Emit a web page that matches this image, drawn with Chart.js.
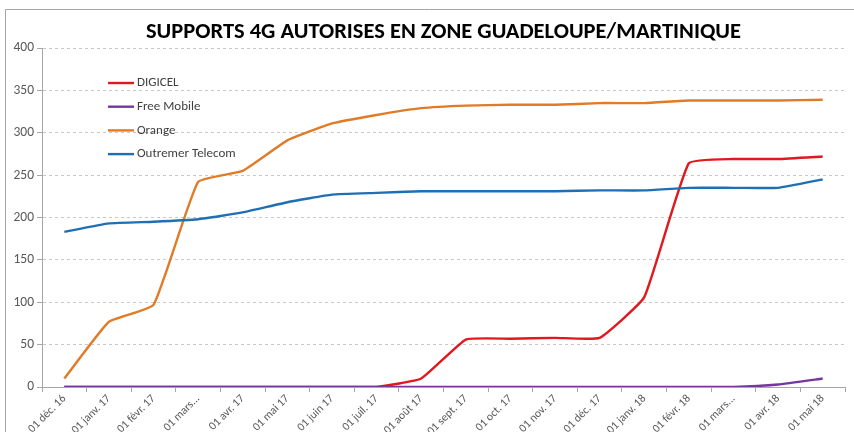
<!DOCTYPE html>
<html>
<head>
<meta charset="utf-8">
<script src="https://cdn.jsdelivr.net/npm/chart.js@4"></script>
<style>
  html, body { margin: 0; padding: 0; background: #fff; }
  #wrap { width: 854px; height: 432px; position: relative; }
</style>
</head>
<body>
<div id="wrap"><canvas id="chart" width="854" height="432"></canvas></div>
<script>
const months = [
  "01 déc. 16", "01 janv. 17", "01 févr. 17", "01 mars...", "01 avr. 17", "01 mai 17",
  "01 juin 17", "01 juil. 17", "01 août 17", "01 sept. 17", "01 oct. 17", "01 nov. 17",
  "01 déc. 17", "01 janv. 18", "01 févr. 18", "01 mars...", "01 avr. 18", "01 mai 18",
];
const digicel = [0, 0, 0, 0, 0, 0, 0, 0, 10, 56, 57, 58, 58, 106, 264, 269, 269, 272];
const freeMobile = [0, 0, 0, 0, 0, 0, 0, 0, 0, 0, 0, 0, 0, 0, 0, 0, 3, 10];
const orange = [10, 77, 97, 242, 255, 291, 311, 321, 329, 332, 333, 333, 335, 335, 338, 338, 338, 339];
const outremer = [183, 193, 195, 198, 206, 218, 227, 229, 231, 231, 231, 231, 232, 232, 235, 235, 235, 245];
const yTicks = [0, 50, 100, 150, 200, 250, 300, 350, 400];

const font = "Carlito, Calibri, Lato, sans-serif";

function line(label, data, color, order) {
  return {
    label,
    data,
    borderColor: color,
    backgroundColor: color,
    borderWidth: 2.4,
    pointRadius: 0,
    tension: 0.12,
    fill: false,
    order,
  };
}

// excel-style frame + legend drawn inside the plot
const framePlugin = {
  id: "frame",
  beforeDraw(chart) {
    const ctx = chart.ctx;
    ctx.save();
    ctx.strokeStyle = "#a6a6a6";
    ctx.lineWidth = 1;
    ctx.beginPath();
    ctx.moveTo(5.5, 432);
    ctx.lineTo(5.5, 9.5);
    ctx.lineTo(854, 9.5);
    ctx.stroke();
    ctx.restore();
  },
  afterDraw(chart) {
    const ctx = chart.ctx;
    ctx.save();
    ctx.font = "13px " + font;
    ctx.textBaseline = "middle";
    chart.data.datasets.forEach((ds, i) => {
      const y = 83 + i * 23.7;
      ctx.strokeStyle = ds.borderColor;
      ctx.lineWidth = 2.4;
      ctx.beginPath();
      ctx.moveTo(108, y);
      ctx.lineTo(134, y);
      ctx.stroke();
      ctx.fillStyle = "#404040";
      ctx.fillText(ds.label, 137, y);
    });
    ctx.restore();
  },
};

new Chart(document.getElementById("chart"), {
  type: "line",
  data: {
    labels: months,
    datasets: [
      line("DIGICEL", digicel, "#e0191f", 4),
      line("Free Mobile", freeMobile, "#7636a0", 3),
      line("Orange", orange, "#e07b27", 2),
      line("Outremer Telecom", outremer, "#1f6fb5", 1),
    ],
  },
  options: {
    responsive: false,
    animation: false,
    layout: { padding: { left: 0, right: 9, top: 0, bottom: 0 } },
    plugins: {
      legend: { display: false },
      tooltip: { enabled: false },
      title: {
        display: true,
        fullSize: false,
        text: "SUPPORTS 4G AUTORISES EN ZONE GUADELOUPE/MARTINIQUE",
        color: "#000",
        font: { family: font, size: 22.5, weight: "bold", lineHeight: 1.2 },
        padding: { top: 19, bottom: 2 },
      },
    },
    scales: {
      x: {
        offset: true,
        afterFit(scale) { scale.height = 45; },
        border: { color: "#a6a6a6", width: 1 },
        grid: { display: true, drawOnChartArea: false, drawTicks: true, tickLength: 5, color: "#a6a6a6", offset: true },
        ticks: {
          color: "#595959",
          font: { family: font, size: 11.5 },
          minRotation: 45,
          maxRotation: 45,
          autoSkip: false,
          padding: 0,
        },
      },
      y: {
        min: 0,
        max: 400,
        afterFit(scale) { scale.width = 42; },
        afterBuildTicks(scale) { scale.ticks = yTicks.map((v) => ({ value: v })); },
        border: { color: "#a6a6a6", width: 1, dash: [3, 3] },
        grid: {
          color: "#c8c8c8",
          tickColor: "#a6a6a6",
          tickLength: 5,
          drawTicks: true,
        },
        ticks: {
          color: "#595959",
          font: { family: font, size: 13.5 },
          padding: 3,
        },
      },
    },
  },
  plugins: [framePlugin],
});
</script>
</body>
</html>
